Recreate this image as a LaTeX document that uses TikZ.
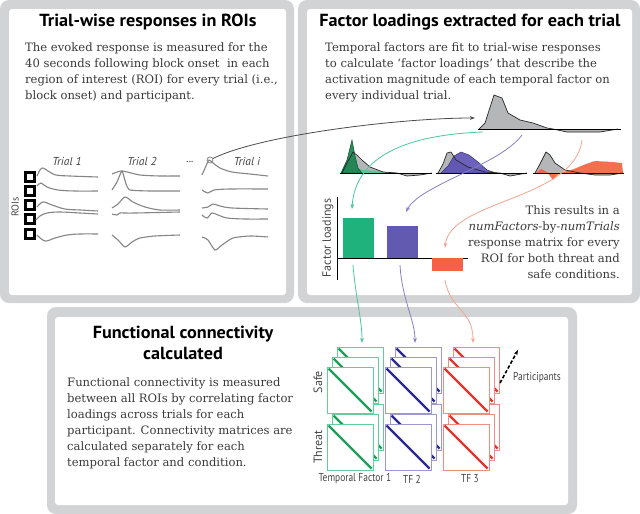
\documentclass[tikz,border=0pt]{standalone}
\usepackage{fontspec}
\setmainfont{DejaVu Serif}
\setsansfont{PT Sans}
\newfontfamily\narrowsf{PT Sans}[FakeStretch=0.82]
\newfontfamily\titlesf{PT Sans}[FakeStretch=1.04]
\usetikzlibrary{arrows.meta,calc}

\definecolor{framegray}{HTML}{D1D3D4}
\definecolor{textgray}{HTML}{3A3A3A}
\definecolor{labelgray}{HTML}{444444}
\definecolor{tracegray}{HTML}{858585}
\definecolor{factorgray}{HTML}{B5B6B8}
\definecolor{bargreen}{HTML}{20B27D}
\definecolor{barpurple}{HTML}{625AB0}
\definecolor{barred}{HTML}{F26246}
\definecolor{curvegreen}{HTML}{4CC79A}
\definecolor{curvepurple}{HTML}{8580C6}
\definecolor{curvered}{HTML}{F3A58F}
\definecolor{fgreendark}{HTML}{16804B}
\definecolor{fgreenlight}{HTML}{45C98E}
\definecolor{fpurple}{HTML}{5248B0}
\definecolor{fred}{HTML}{F2603E}
\definecolor{edgegreen}{HTML}{5FCF9C}
\definecolor{diaggreen}{HTML}{1E9E5A}
\definecolor{edgepurple}{HTML}{9D98CF}
\definecolor{diagpurple}{HTML}{2A2A90}
\definecolor{edgered}{HTML}{F08C82}
\definecolor{diagred}{HTML}{E3342F}

\begin{document}
\begin{tikzpicture}[
  x=1pt, y=-1pt,
  >={Stealth[length=5pt,width=3.6pt,inset=1.2pt]},
  panelframe/.style={fill=framegray, rounded corners=9pt},
  panelinner/.style={fill=white, rounded corners=3pt},
  titletext/.style={font=\titlesf\bfseries\fontsize{17.5}{21}\selectfont, inner sep=0pt, align=center},
  bodytext/.style={font=\fontsize{11.6}{16}\selectfont, text=textgray, inner sep=0pt},
  sidelabel/.style={font=\sffamily\fontsize{12}{14}\selectfont, text=labelgray, inner sep=0pt, rotate=90},
  trial/.style={font=\sffamily\itshape\fontsize{11.5}{13}\selectfont, text=labelgray, inner sep=0pt},
  narrowlabel/.style={font=\narrowsf\fontsize{11.5}{13}\selectfont, text=labelgray, inner sep=0pt},
  trace/.style={draw=tracegray, line width=1.1pt},
  roibox/.style={draw=black, line width=2.4pt},
  factorshape/.style={fill=factorgray},
  factoredge/.style={draw=black!85, line width=0.7pt, line join=round},
  axisline/.style={draw=black, line width=1pt},
  link/.style={->, line width=0.8pt},
  matframe/.style={fill=white, line width=1pt},
  matdiag/.style={line width=2.4pt}
]
  \useasboundingbox (0,0) rectangle (640,514);

  % panels
  \fill[panelframe] (0,0) rectangle (294,303);
  \fill[panelinner] (9,9) rectangle (286,295);
  \fill[panelframe] (298,0) rectangle (640,303);
  \fill[panelinner] (307,9) rectangle (632,295);
  \fill[panelframe] (47,307) rectangle (577,514);
  \fill[panelinner] (55,317) rectangle (568,505);

  % panel 1: trial-wise responses
  \node[titletext, anchor=base] (trialtitle) at (148,27) {Trial-wise responses in ROIs};
  \node[bodytext, anchor=north west, align=left] (trialtext) at (25,42)
    {The evoked response is measured for the\\40 seconds following block onset\ \ in each\\region of interest (ROI) for every trial (i.e.,\\block onset) and participant.};

  \node[trial] (trial1) at (67,161) {Trial 1};
  \node[trial] (trial2) at (142,161) {Trial 2};
  \node[trial] (trialdots) at (190,162) {...};
  \node[trial] (triali) at (247,161) {Trial i};
  \node[sidelabel, font=\sffamily\fontsize{10}{12}\selectfont] (roilabel) at (15,207) {ROIs};
  \foreach \ry in {177,191,205,219,234}
    \draw[roibox] (25.5,\ry-4.5) rectangle ++(9,9);

  % trial 1
  \draw[trace] plot[smooth, tension=0.6] coordinates {(37,176) (40,170) (43,168) (48,171) (56,175) (70,176) (98,177)};
  \draw[trace] plot[smooth, tension=0.6] coordinates {(37,186) (41,183) (47,187) (58,190) (75,191) (98,191)};
  \draw[trace] plot[smooth, tension=0.6] coordinates {(37,207) (43,202) (52,205) (65,209) (80,210) (98,211)};
  \draw[trace] plot[smooth, tension=0.6] coordinates {(36,220) (40,216) (47,213) (60,212) (80,213) (98,214)};
  \draw[trace] plot[smooth, tension=0.6] coordinates {(37,235) (45,241) (55,238) (67,235) (80,234) (98,234)};
  % trial 2
  \draw[trace] plot[smooth, tension=0.4] coordinates {(112,174) (122,171) (140,175) (160,176) (180,176)};
  \draw[trace] plot[smooth, tension=0.3] coordinates {(112,190) (117,182) (122,171) (126,184) (130,190) (150,191) (180,191)};
  \draw[trace] plot[smooth, tension=0.5] coordinates {(112,208) (118,204) (125,197) (133,202) (145,207) (160,210) (180,210)};
  \draw[trace] plot[smooth, tension=0.5] coordinates {(112,214) (117,215) (120,213) (124,213) (135,213) (180,212)};
  \draw[trace] plot[smooth, tension=0.4] coordinates {(112,235) (118,240) (125,247) (132,242) (140,238) (155,236) (180,235)};
  % trial i
  \draw[trace] plot[smooth, tension=0.5] coordinates {(202,175) (206,166) (209,160) (213,163) (220,168) (232,172) (250,174) (268,176)};
  \draw[trace] plot[smooth, tension=0.5] coordinates {(202,190) (208,193) (214,190) (230,189) (268,189)};
  \draw[trace] plot[smooth, tension=0.5] coordinates {(202,208) (208,207) (213,204) (220,206) (232,208) (268,209)};
  \draw[trace] plot[smooth, tension=0.5] coordinates {(202,215) (207,218) (212,213) (218,215) (227,218) (245,219) (268,219)};
  \draw[trace] plot[smooth, tension=0.4] coordinates {(202,237) (208,240) (215,250) (222,245) (233,238) (250,236) (268,237)};
  \node[circle, draw=tracegray, line width=0.8pt, inner sep=0pt, minimum size=6pt] (pick) at (210,160) {};

  % panel 2: factor loadings
  \node[titletext, anchor=base] (factortitle) at (470,27) {Factor loadings extracted for each trial};
  \node[bodytext, anchor=north west, align=left] (factortext) at (325,42)
    {Temporal factors are fit to trial-wise responses\\to calculate `factor loadings' that describe the\\activation magnitude of each temporal factor on\\every individual trial.};

  % big temporal factor
  \fill[factorshape] (479,129) -- (485,123) -- (494,95) -- (502,98) -- (508,113) -- (520,120) -- (533,123) -- (547,128) -- (553,129) -- (567,132) -- (600,132) -- (618,129) -- cycle;
  \draw[factoredge] (479,129) -- (485,123) -- (494,95) -- (502,98) -- (508,113) -- (520,120) -- (533,123) -- (547,128) -- (553,129) -- (567,132) -- (600,132) -- (618,129);
  \draw[axisline] (478,129) -- (621,129);
  \coordinate (bigfactor) at (475,118);

  % factor 1
  \fill[factorshape] (342,173) -- (347,163) -- (353,152) -- (358,156) -- (362,160) -- (370,167) -- (383,172) -- (397,173) -- (407,176) -- (420,175) -- (432,173) -- cycle;
  \fill[fgreenlight, opacity=0.8] (357,169) -- (375,171) -- (395,173) -- (357,173) -- cycle;
  \filldraw[fill=fgreendark, draw=fgreendark!70!black, line width=0.5pt, fill opacity=0.9] (341,173) -- (347,160) -- (352,140) -- (355,156) -- (358,168) -- (362,173) -- cycle;
  \draw[factoredge] (342,173) -- (347,163) -- (353,152) -- (358,156) -- (362,160) -- (370,167) -- (383,172) -- (397,173) -- (407,176) -- (420,175) -- (432,173);
  \draw[axisline] (340,173) -- (432,173);
  % factor 2
  \fill[factorshape] (438,173) -- (443,164) -- (447,153) -- (451,152) -- (456,160) -- (468,167) -- (485,172) -- (500,173) -- (510,176) -- (527,173) -- cycle;
  \filldraw[fill=fpurple, draw=fpurple!70!black, line width=0.5pt, fill opacity=0.85] (441,173) -- (448,166) -- (454,156) -- (461,152) -- (469,155) -- (478,162) -- (487,170) -- (496,173) -- cycle;
  \draw[factoredge] (438,173) -- (443,164) -- (447,153) -- (451,152) -- (456,160) -- (468,167) -- (485,172) -- (500,173) -- (510,176) -- (527,173);
  \draw[axisline] (436,173) -- (527,173);
  % factor 3
  \fill[factorshape] (535,173) -- (540,164) -- (546,152) -- (550,155) -- (555,163) -- (565,170) -- (580,173) -- (595,175) -- (610,175) -- (623,173) -- cycle;
  \fill[fred, opacity=0.9] (536,173) -- (541,169) -- (547,172) -- (553,180) -- (559,173) -- cycle;
  \fill[fred, opacity=0.9] (562,173) -- (574,169) -- (586,164) -- (595,161) -- (612,162) -- (622,163) -- (623,173) -- cycle;
  \draw[factoredge] (535,173) -- (540,164) -- (546,152) -- (550,155) -- (555,163) -- (565,170) -- (580,173) -- (595,175) -- (610,175) -- (623,173);
  \draw[axisline] (533,173) -- (624,173);

  % loadings bar chart
  \draw[axisline] (337,197) -- (337,280);
  \draw[axisline] (337,258) -- (468,258);
  \fill[bargreen] (343,218) rectangle (374,258);
  \fill[barpurple] (387,226) rectangle (418,258);
  \fill[barred] (432,258) rectangle (463,271);
  \node[sidelabel] (loadlabel) at (328,238) {Factor loadings};
  \node[bodytext, anchor=north east, align=right] (matrixtext) at (620,205)
    {This results in a\\\textit{numFactors}-by-\textit{numTrials}\\response matrix for every\\ROI for both threat and\\safe conditions.};

  \coordinate (greensrc) at (483,132);
  \coordinate (purplesrc) at (522,135);
  \coordinate (redsrc) at (582,140);
  \coordinate (greenbar) at (352,209);
  \coordinate (purplebar) at (406,212);
  \coordinate (redbar) at (445,248);

  % panel 3: functional connectivity
  \node[titletext, anchor=north] (conntitle) at (183,326) {Functional connectivity\\calculated};
  \node[bodytext, anchor=north west, align=left] (conntext) at (67,377)
    {Functional connectivity is measured\\between all ROIs by correlating factor\\loadings across trials for each\\participant. Connectivity matrices are\\calculated separately for each\\temporal factor and condition.};

  \foreach \mx/\edge/\diag in {327/edgegreen/diaggreen, 385/edgepurple/diagpurple, 443/edgered/diagred}{
    \foreach \my in {424,367}{
      \foreach \k in {2,1,0}{
        \draw[matframe, draw=\edge] (\mx+5*\k,\my-10*\k) rectangle ++(46,46);
        \draw[matdiag, draw=\diag] (\mx+5*\k+1.5,\my-10*\k+1.5) -- ++(43,43);
      }
    }
  }
  \node[sidelabel] (safelabel) at (318,382) {Safe};
  \node[sidelabel] (threatlabel) at (318,447) {Threat};
  \node[narrowlabel] (tf1label) at (355,479) {Temporal Factor 1};
  \node[narrowlabel] (tf2label) at (412,479) {TF 2};
  \node[narrowlabel] (tf3label) at (470,479) {TF 3};
  \node[narrowlabel, anchor=west] (partlabel) at (513,378) {Participants};
  \coordinate (dashstart) at (500,383);
  \coordinate (dashend) at (518,350);

  \coordinate (greenout) at (353,265);
  \coordinate (purpleout) at (400,265);
  \coordinate (redout) at (445,280);
  \coordinate (greenmat) at (362,343);
  \coordinate (purplemat) at (415,343);
  \coordinate (redmat) at (473,343);

  % connectors
  \draw[link, draw=black!70] (pick) .. controls (260,135) and (400,118) .. (bigfactor);
  \draw[link, draw=curvegreen] (greensrc) .. controls (400,135) and (355,160) .. (greenbar);
  \draw[link, draw=curvepurple] (purplesrc) .. controls (500,165) and (420,185) .. (purplebar);
  \draw[link, draw=curvered] (redsrc) .. controls (575,200) and (450,200) .. (redbar);
  \draw[link, draw=curvegreen] (greenout) .. controls (356,300) and (362,320) .. (greenmat);
  \draw[link, draw=curvepurple] (purpleout) .. controls (402,300) and (415,320) .. (purplemat);
  \draw[link, draw=curvered] (redout) .. controls (450,310) and (473,310) .. (redmat);
  \draw[->, line width=1.6pt, dash pattern=on 3.5pt off 2pt] (dashstart) -- (dashend);
\end{tikzpicture}
\end{document}
